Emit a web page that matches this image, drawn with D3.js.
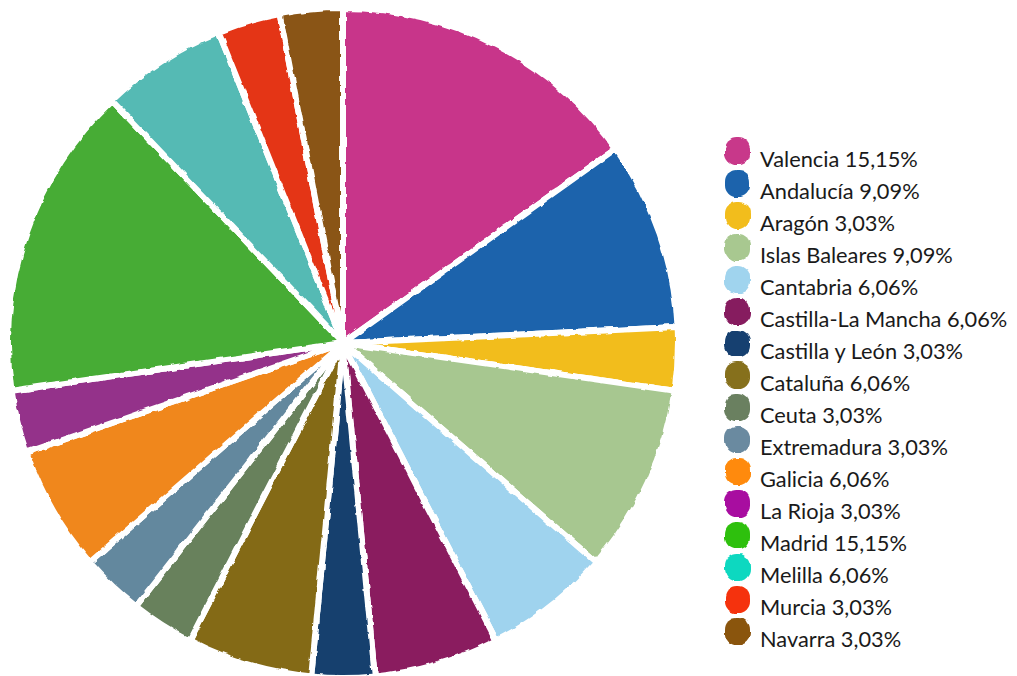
<!DOCTYPE html>
<html>
<head>
<meta charset="utf-8">
<script src="https://cdn.jsdelivr.net/npm/d3@7"></script>
<style>
  html, body { margin: 0; padding: 0; background: #ffffff; }
  svg { display: block; }
</style>
</head>
<body>
<svg id="chart" width="1017" height="676"></svg>
<script>
// Share of records by autonomous community
const regions = ["Valencia", "Andalucía", "Aragón", "Islas Baleares", "Cantabria",
  "Castilla-La Mancha", "Castilla y León", "Cataluña", "Ceuta", "Extremadura",
  "Galicia", "La Rioja", "Madrid", "Melilla", "Murcia", "Navarra"];
const shares = [15.15, 9.09, 3.03, 9.09, 6.06, 6.06, 3.03, 6.06, 3.03, 3.03,
  6.06, 3.03, 15.15, 6.06, 3.03, 3.03];
const labels = ["15,15%", "9,09%", "3,03%", "9,09%", "6,06%", "6,06%", "3,03%", "6,06%",
  "3,03%", "3,03%", "6,06%", "3,03%", "15,15%", "6,06%", "3,03%", "3,03%"];
const sliceColors = ["#c8358a", "#1a64ac", "#f2bd1e", "#a7c790", "#9fd3ee", "#8a1a5f",
  "#143f6e", "#846a18", "#67815c", "#64889e", "#f0871e", "#94338a", "#46ac35",
  "#55bab4", "#e43518", "#8a5514"];
const keyColors = ["#c8388a", "#1a64ac", "#f2bd1e", "#a8c890", "#a0d4ee", "#861a5e",
  "#16406f", "#86701c", "#6a8060", "#6a8aa0", "#ff8a08", "#a80ca0", "#2ec00a",
  "#0cd8c0", "#f53208", "#8a5410"];

const svg = d3.select("#chart");
const cx = 343, cy = 343, radius = 335;

// Brush-like ragged edges
const defs = svg.append("defs");
const rough = defs.append("filter").attr("id", "ragged")
  .attr("x", "-5%").attr("y", "-5%").attr("width", "110%").attr("height", "110%");
rough.append("feTurbulence").attr("type", "fractalNoise")
  .attr("baseFrequency", 0.09).attr("numOctaves", 2).attr("seed", 3).attr("result", "noise");
rough.append("feDisplacementMap").attr("in", "SourceGraphic").attr("in2", "noise")
  .attr("scale", 4).attr("xChannelSelector", "R").attr("yChannelSelector", "G");

const pie = d3.pie().sort(null).value(d => d).startAngle(0).endAngle(2 * Math.PI);
const arc = d3.arc().innerRadius(0).outerRadius(radius);

const pieG = svg.append("g")
  .attr("transform", `translate(${cx},${cy})`)
  .attr("filter", "url(#ragged)");

pieG.selectAll("path")
  .data(pie(shares))
  .join("path")
  .attr("d", arc)
  .attr("fill", (d, i) => sliceColors[i])
  .attr("stroke", "#ffffff")
  .attr("stroke-width", 6)
  .attr("stroke-linejoin", "round");

// Legend
const rowY = d3.scalePoint().domain(regions).range([151.5, 631.5]);
const legend = svg.append("g");

legend.append("g").attr("filter", "url(#ragged)")
  .selectAll("rect")
  .data(regions)
  .join("rect")
  .attr("x", 725)
  .attr("y", d => rowY(d) - 13.5)
  .attr("width", 25)
  .attr("height", 27)
  .attr("rx", 11.5)
  .attr("ry", 11.5)
  .attr("fill", (d, i) => keyColors[i]);

legend.selectAll("text")
  .data(regions)
  .join("text")
  .attr("x", 760)
  .attr("y", d => rowY(d) + 15.5)
  .attr("font-family", "Lato, 'Open Sans', sans-serif")
  .attr("font-size", 21.8)
  .attr("fill", "#1a1a1a")
  .text((d, i) => `${d} ${labels[i]}`);
</script>
</body>
</html>
